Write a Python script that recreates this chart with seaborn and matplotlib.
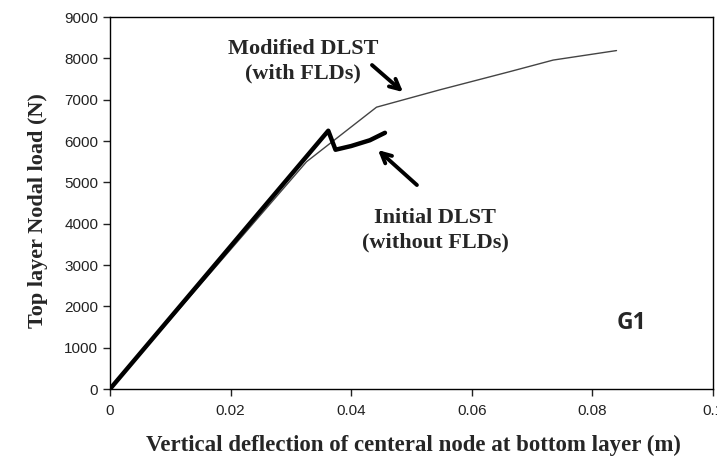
"""Load-deflection curve, G1: initial vs modified DLST."""

import matplotlib
matplotlib.use("Agg")
import matplotlib.pyplot as plt
import pandas as pd
import seaborn as sns

# modified DLST (with FLDs) - thin line
mod_x = [0.0, 0.0326, 0.0442, 0.0547, 0.0663, 0.0735, 0.0840]
mod_y = [0, 5500, 6820, 7240, 7680, 7960, 8190]

# initial DLST (without FLDs) - thick line
init_x = [0.0, 0.0362, 0.0374, 0.0400, 0.0431, 0.0456]
init_y = [0, 6250, 5790, 5880, 6020, 6200]

x_ticks = [0, 0.02, 0.04, 0.06, 0.08, 0.1]
x_tick_labels = ["0", "0.02", "0.04", "0.06", "0.08", "0.1"]
y_ticks = [0, 1000, 2000, 3000, 4000, 5000, 6000, 7000, 8000, 9000]

sns.set_theme(style="white")
plt.rcParams["font.family"] = ["Liberation Sans", "DejaVu Sans"]

fig = plt.figure(figsize=(7.17, 4.62), dpi=100)
ax = fig.add_axes([0.1534, 0.158, 0.841, 0.805])

mod_df = pd.DataFrame({"x": mod_x, "y": mod_y})
init_df = pd.DataFrame({"x": init_x, "y": init_y})
sns.lineplot(data=mod_df, x="x", y="y", ax=ax, color="#444444", lw=1.0,
             sort=False, estimator=None)
sns.lineplot(data=init_df, x="x", y="y", ax=ax, color="black", lw=3.2,
             sort=False, estimator=None, solid_capstyle="round")

ax.set_xlim(0, 0.1)
ax.set_ylim(0, 9000)
ax.set_xticks(x_ticks)
ax.set_xticklabels(x_tick_labels)
ax.set_yticks(y_ticks)
ax.tick_params(axis="both", which="major", labelsize=11, colors="#222222",
               direction="out", length=5, width=1, left=True, bottom=True)
ax.tick_params(axis="x", pad=6)
for s in ax.spines.values():
    s.set_color("black")
    s.set_linewidth(1)

serif = ["Liberation Serif", "DejaVu Serif"]
ax.set_xlabel("Vertical deflection of centeral node at bottom layer (m)",
              family=serif, fontweight="bold", fontsize=16.5)
ax.set_ylabel("Top layer Nodal load (N)", family=serif, fontweight="bold",
              fontsize=16)
ax.xaxis.set_label_coords(0.503, -0.122)
ax.yaxis.set_label_coords(-0.103, 0.48)

# annotation texts
ax.text(0.032, 7930, "Modified DLST\n(with FLDs)", family=serif, fontweight="bold",
        fontsize=16, ha="center", va="center", linespacing=1.3)
ax.text(0.0539, 3840, "Initial DLST\n(without FLDs)", family=serif, fontweight="bold",
        fontsize=16, ha="center", va="center", linespacing=1.3)

# arrows
arrow = dict(arrowstyle="->", color="black", lw=2.8, mutation_scale=18,
             shrinkA=0, shrinkB=0)
ax.annotate("", xy=(0.0486, 7186), xytext=(0.04345, 7840), arrowprops=arrow)
ax.annotate("", xy=(0.04444, 5783), xytext=(0.0509, 4936), arrowprops=arrow)

ax.text(0.0865, 1600, "G1", family=["Open Sans", "DejaVu Sans"], fontweight="bold",
        fontsize=16.5, ha="center", va="center")

fig.savefig("out.png", dpi=100)
